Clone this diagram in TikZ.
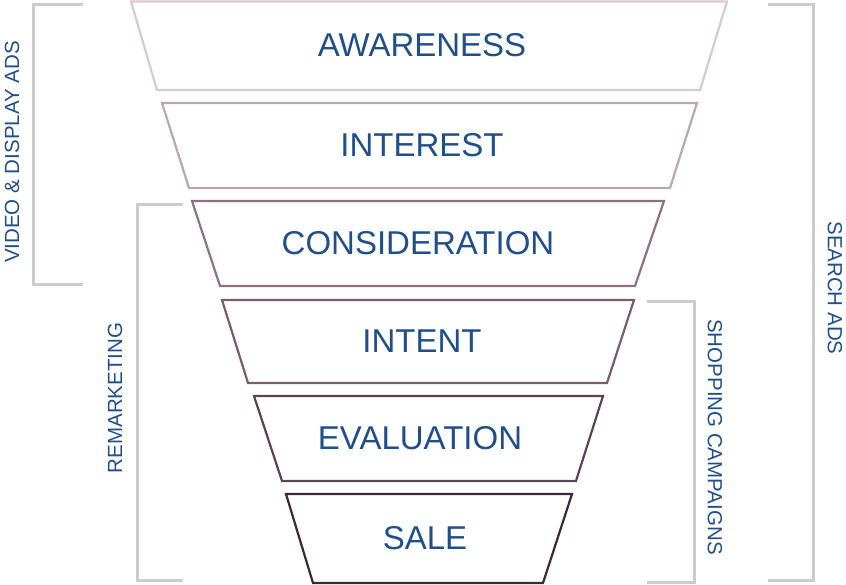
\documentclass[tikz,border=0pt]{standalone}
\usepackage{fontspec}
\setmainfont{Liberation Sans}
\definecolor{txt}{HTML}{1F4F8A}
\definecolor{brk}{HTML}{CCCCCC}
\definecolor{c1}{HTML}{D9C9D3}
\definecolor{c2}{HTML}{BBA5B3}
\definecolor{c3}{HTML}{8E7284}
\definecolor{c4}{HTML}{7A5C6F}
\definecolor{c5}{HTML}{5D4254}
\definecolor{c6}{HTML}{402636}
\begin{document}
\begin{tikzpicture}[x=1pt,y=-1pt,
  stage/.style={line width=2.2pt,line join=miter},
  stagetext/.style={text=txt,font=\fontsize{33}{39}\selectfont,inner sep=0pt},
  sidetext/.style={text=txt,font=\fontsize{20.5}{24}\selectfont,inner sep=0pt},
  bracketline/.style={draw=brk,line width=3pt}]
\useasboundingbox (0,0) rectangle (846,585);
% funnel stages
\draw[stage,draw=c1] (131,1.5) -- (727,1.5) -- (700,90) -- (157,90) -- cycle;
\draw[stage,draw=c2] (162,103) -- (697,103) -- (670,188) -- (189,188) -- cycle;
\draw[stage,draw=c3] (192,201) -- (664,201) -- (635,286) -- (220,286) -- cycle;
\draw[stage,draw=c4] (222,300) -- (634,300) -- (607,383) -- (248,383) -- cycle;
\draw[stage,draw=c5] (254,396) -- (603,396) -- (576,481) -- (282,481) -- cycle;
\draw[stage,draw=c6] (286,494) -- (572,494) -- (543,583) -- (313,583) -- cycle;
\node[stagetext] (aw) at (422,45) {AWARENESS};
\node[stagetext] (in) at (422,145) {INTEREST};
\node[stagetext] (co) at (418,243) {CONSIDERATION};
\node[stagetext] (it) at (422,341) {INTENT};
\node[stagetext] (ev) at (420,438) {EVALUATION};
\node[stagetext] (sa) at (425,538) {SALE};
% brackets
\draw[bracketline] (83,5) -- (33,5) -- (33,285) -- (83,285);
\draw[bracketline] (183,205) -- (137,205) -- (137,580) -- (183,580);
\draw[bracketline] (647,302) -- (694,302) -- (694,582) -- (647,582);
\draw[bracketline] (768,5) -- (813,5) -- (813,580) -- (768,580);
% side labels
\node[sidetext,rotate=90] (vd) at (12,152) {VIDEO \& DISPLAY ADS};
\node[sidetext,rotate=90] (rm) at (115,398) {REMARKETING};
\node[sidetext,rotate=-90] (sh) at (715,437) {SHOPPING CAMPAIGNS};
\node[sidetext,rotate=-90] (se) at (835,288) {SEARCH ADS};
\end{tikzpicture}
\end{document}
